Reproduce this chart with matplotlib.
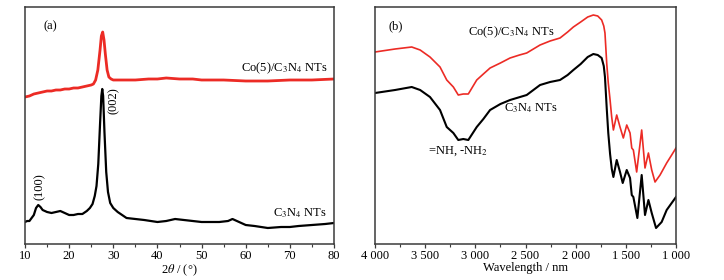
import numpy as np
import matplotlib
matplotlib.use("Agg")
from matplotlib import pyplot as plt
from matplotlib.ticker import MultipleLocator, FuncFormatter

plt.rcParams['font.family'] = ['Liberation Serif', 'DejaVu Serif']
plt.rcParams['mathtext.fontset'] = 'stix'
plt.rcParams['font.size'] = 9

#---------------- XRD data (a) ----------------
xrd_theta_co = [10, 11, 12, 13, 14, 15, 16, 17, 18, 19, 20, 21, 22, 23, 24, 25, 25.5, 26,
                26.5, 27, 27.3, 27.6, 27.9, 28.2, 28.6, 29, 29.5, 30, 32, 35, 38, 40, 42,
                45, 48, 50, 55, 60, 65, 70, 75, 80]
xrd_int_co = [147, 148, 150, 151, 152, 153, 153, 154, 154, 155, 155, 156, 156, 157, 158, 159,
              160, 164, 174, 194, 208, 212, 204, 190, 174, 167, 165, 164, 164, 164, 165, 165,
              166, 165, 165, 164, 164, 163, 163, 164, 164, 165]

xrd_theta_cn = [10, 10.5, 11, 11.5, 12, 12.5, 13, 13.5, 14, 15, 16, 17, 18, 19, 20, 21, 22, 23,
                24, 24.7, 25.3, 25.8, 26.2, 26.6, 27, 27.3, 27.5, 27.7, 28, 28.4, 28.8, 29.3,
                30, 31, 32, 33, 35, 37, 40, 42, 44, 46, 48, 50, 52, 54, 56, 57, 58, 60, 62,
                65, 68, 70, 72, 75, 78, 80]
xrd_int_cn = [22, 23, 23, 26, 29, 36, 39, 37, 34, 32, 31, 32, 33, 31, 29, 29, 30, 30,
              33, 36, 40, 48, 58, 80, 120, 148, 155, 148, 112, 72, 52, 41,
              36, 32, 29, 26, 25, 24, 22, 23, 25, 24, 23, 22, 22, 22, 23, 25, 23, 19, 18,
              16, 17, 17, 18, 19, 20, 21]

#---------------- IR data (b) ----------------
ir_wave_co = [4000, 3800, 3634, 3550, 3452, 3352, 3285, 3219, 3170, 3120, 3070, 2986, 2920,
              2853, 2750, 2654, 2560, 2488, 2355, 2255, 2156, 2080, 2023, 1950, 1880, 1824,
              1780, 1741, 1720, 1708, 1690, 1675, 1657, 1641, 1624, 1591, 1558, 1525, 1491,
              1458, 1441, 1425, 1392, 1342, 1309, 1275, 1242, 1209, 1159, 1093, 1043, 1000]
ir_int_co = [192, 195, 197, 194, 187, 177, 164, 157, 149, 150, 150, 164, 170,
             176, 181, 186, 189, 191, 199, 203, 206, 212, 217, 222, 227, 229,
             228, 224, 218, 211, 180, 161, 144, 127, 114, 129, 117, 106, 119,
             111, 96, 94, 72, 114, 76, 91, 74, 62, 69, 81, 89, 96]

ir_wave_cn = [4000, 3800, 3634, 3550, 3452, 3352, 3285, 3219, 3170, 3120, 3070, 2986, 2920,
              2853, 2750, 2654, 2488, 2355, 2255, 2156, 2080, 2023, 1950, 1880, 1824, 1780,
              1741, 1720, 1708, 1690, 1675, 1657, 1640, 1624, 1591, 1558, 1531, 1491, 1458,
              1441, 1425, 1385, 1342, 1309, 1275, 1242, 1199, 1143, 1093, 1043, 1000]
ir_int_cn = [151, 154, 157, 154, 147, 134, 117, 111, 104, 105, 104, 117, 125,
             134, 140, 144, 149, 159, 162, 164, 169, 174, 180, 187, 190, 189,
             186, 178, 167, 135, 111, 90, 75, 67, 84, 72, 61, 74, 66,
             49, 47, 26, 69, 29, 44, 31, 16, 22, 34, 41, 47]

red = '#ec2b25'
spine_col = '#3a3a3a'

fig = plt.figure(figsize=(7.24, 2.80), dpi=100)
ax1 = fig.add_axes([25/724, 36/280, 309/724, 237/280])
ax2 = fig.add_axes([375/724, 36/280, 301/724, 237/280])

for ax in (ax1, ax2):
    ax.set_yticks([])
    for s in ax.spines.values():
        s.set_color(spine_col)
        s.set_linewidth(1.1)
    ax.tick_params(axis='x', which='major', direction='out', length=3, width=0.9,
                   color=spine_col, labelsize=9, pad=1.5)
    ax.tick_params(axis='x', which='minor', direction='out', length=2, width=0.8,
                   color=spine_col)
    ax.set_ylim(0, 237)

# (a)
ax1.plot(xrd_theta_co, xrd_int_co, color=red, lw=2.0)
ax1.plot(xrd_theta_cn, xrd_int_cn, color='black', lw=1.6)
ax1.set_xlim(10, 80)
ax1.xaxis.set_major_locator(MultipleLocator(10))
ax1.xaxis.set_minor_locator(MultipleLocator(5))
ax1.set_xlabel(r'2$\theta$ / (°)', fontsize=9, labelpad=0)
ax1.text(0.06, 0.92, '(a)', transform=ax1.transAxes, fontsize=9, va='center')
ax1.text(78.5, 176, r'Co(5)/C$_3$N$_4$ NTs', fontsize=9, ha='right', va='center')
ax1.text(78.5, 31, r'C$_3$N$_4$ NTs', fontsize=9, ha='right', va='center')
ax1.text(13.3, 57, '(100)', rotation=90, fontsize=9, ha='center', va='center')
ax1.text(30.1, 143, '(002)', rotation=90, fontsize=9, ha='center', va='center')

# (b)
ax2.plot(ir_wave_co, ir_int_co, color=red, lw=1.2)
ax2.plot(ir_wave_cn, ir_int_cn, color='black', lw=1.5)
ax2.set_xlim(4000, 1000)
ax2.xaxis.set_major_locator(MultipleLocator(500))
ax2.xaxis.set_minor_locator(MultipleLocator(250))
ax2.xaxis.set_major_formatter(FuncFormatter(lambda v, p: '{:,}'.format(int(v)).replace(',', ' ')))
ax2.set_xlabel('Wavelength / nm', fontsize=9, labelpad=0)
ax2.text(0.045, 0.92, '(b)', transform=ax2.transAxes, fontsize=9, va='center')
ax2.text(2640, 212, r'Co(5)/C$_3$N$_4$ NTs', fontsize=9, ha='center', va='center')
ax2.text(2450, 136, r'C$_3$N$_4$ NTs', fontsize=9, ha='center', va='center')
ax2.text(3170, 93, r'=NH, -NH$_2$', fontsize=9, ha='center', va='center')

fig.savefig('out.png', dpi=100)
